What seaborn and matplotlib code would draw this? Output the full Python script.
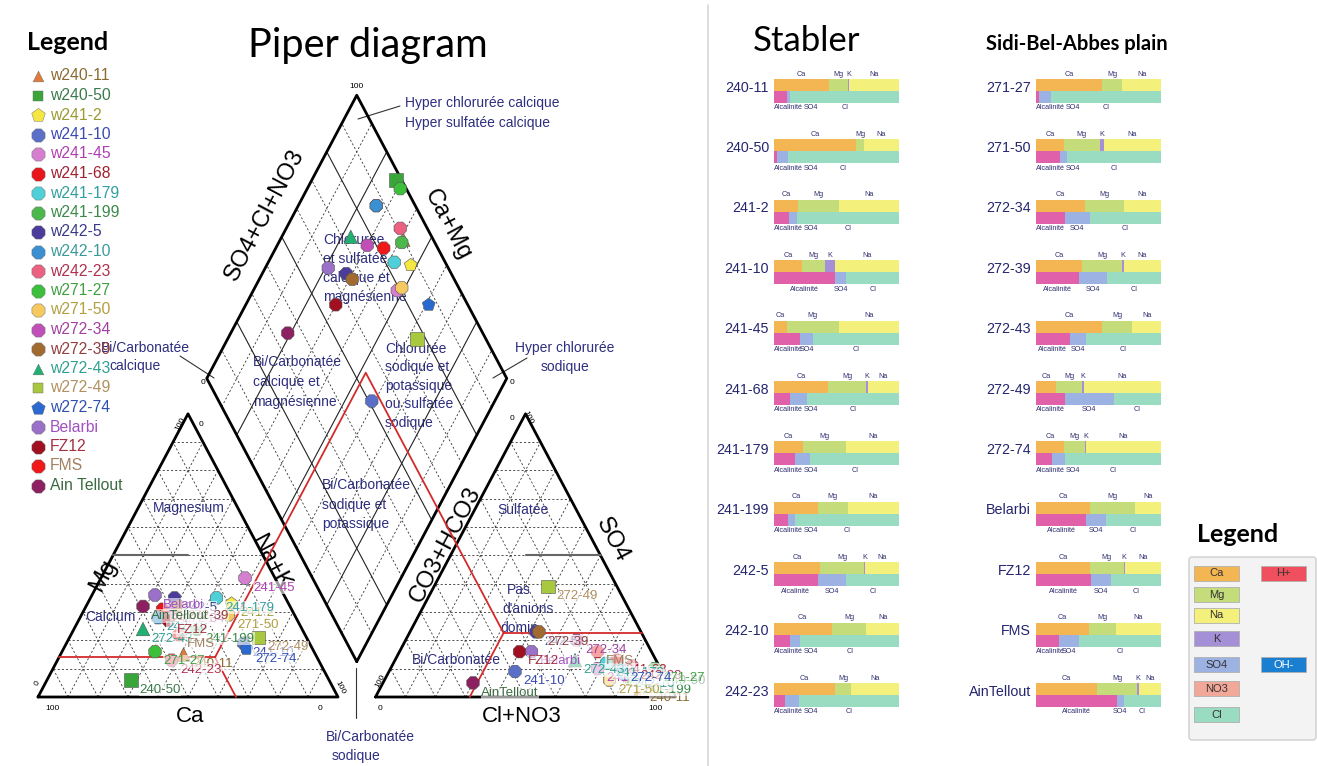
import numpy as np
import pandas as pd
import matplotlib
matplotlib.use("Agg")
import matplotlib.pyplot as plt
import seaborn as sns
from matplotlib.patches import FancyBboxPatch, Rectangle

sns.set_theme(style="white")
plt.rcParams["font.family"] = ["Liberation Sans", "DejaVu Sans"]

# ---------------- data ----------------
samples = ["240-11", "240-50", "241-2", "241-10", "241-45", "241-68", "241-179",
           "241-199", "242-5", "242-10", "242-23", "271-27", "271-50", "272-34",
           "272-39", "272-43", "272-49", "272-74", "Belarbi", "FZ12", "FMS", "AinTellout"]
legend_names = ["w240-11", "w240-50", "w241-2", "w241-10", "w241-45", "w241-68", "w241-179",
                "w241-199", "w242-5", "w242-10", "w242-23", "w271-27", "w271-50", "w272-34",
                "w272-39", "w272-43", "w272-49", "w272-74", "Belarbi", "FZ12", "FMS", "Ain Tellout"]
ca = [44, 66, 19, 22, 10, 43, 23, 35, 37, 46, 49, 53, 22, 39, 37, 53, 16, 22, 43, 43, 42, 49]
mg = [15, 6, 33, 19, 42, 31, 35, 24, 35, 28, 13, 16, 29, 31, 32, 24, 21, 17, 36, 27, 22, 32]
k = [1, 0, 0, 8, 0, 1, 0, 0, 1, 0, 0, 0, 3, 0, 1, 0, 1, 1, 0, 1, 0, 1]
na = [40, 28, 48, 51, 48, 25, 42, 41, 27, 26, 38, 31, 46, 30, 30, 23, 62, 60, 21, 29, 36, 18]
alk = [10, 2, 12, 49, 21, 13, 17, 11, 35, 13, 9, 2, 19, 23, 34, 27, 23, 13, 40, 44, 18, 65]
so4 = [3, 9, 6, 9, 10, 13, 12, 6, 23, 8, 11, 10, 6, 20, 23, 13, 39, 10, 16, 16, 16, 5]
cl = [87, 89, 82, 42, 69, 74, 71, 83, 42, 79, 80, 88, 75, 57, 43, 60, 38, 77, 44, 40, 66, 30]

# red projection guide (Ca, Mg, Na+K) and (HCO3, SO4, Cl)
red_cat = [34, 14, 52]
red_an = [46, 22.6, 31.4]

point_colors = ["#e07b39", "#3aa63a", "#f5e642", "#5a6fc8", "#d67fd0", "#e8161c", "#4fd0d8",
                "#4cb84c", "#4b3c9c", "#3a90d0", "#ec6080", "#3cc03c", "#f5c860", "#c050b8",
                "#a06a30", "#20b070", "#a8c840", "#2a6ad0", "#9a70c8", "#a01020", "#f01818", "#8c2060"]
text_colors = ["#8a6a30", "#3a7a4a", "#9a9a30", "#3a4ab0", "#b040b0", "#a02030", "#30a0a0",
               "#3a8a4a", "#3a3a8a", "#3a9a9a", "#b03050", "#40a040", "#b0a040", "#a040a0",
               "#904040", "#30a090", "#b09060", "#3050b0", "#a050c0", "#a03040", "#a08060", "#3a6a40"]
markers = ["^", "s", "p", "8", "8", "8", "8", "8", "8", "8", "8", "8", "8", "8",
           "8", "^", "s", "p", "8", "8", "8", "8"]

cat_names = ["Ca", "Mg", "K", "Na"]
an_names = ["Alcalinité", "SO4", "Cl"]
stab_colors = {"Ca": "#f4b553", "Mg": "#c4dc7a", "Na": "#f4f07c", "K": "#a58fd6",
               "Alcalinité": "#e061aa", "SO4": "#9bb2e2", "Cl": "#9adcc2"}
leg_left = ["Ca", "Mg", "Na", "K", "SO4", "NO3", "Cl"]
leg_left_colors = ["#f4b553", "#c4dc7a", "#f4f07c", "#a58fd6", "#9bb2e2", "#f2a898", "#9adcc2"]
leg_right = ["H+", "OH-"]
leg_right_colors = ["#f0505e", "#1a7fd0"]

# ---------------- figure ----------------
W, HP = 1317, 766
fig = plt.figure(figsize=(W / 100, HP / 100), dpi=100)
fig.patch.set_facecolor("white")

axt = fig.add_axes([0, 0, 1, 1])
axt.set_xlim(0, W)
axt.set_ylim(HP, 0)
axt.axis("off")

OX, OY, SX, SY = 38, 697, 3.0, 3.27
axp = fig.add_axes([0, 0, 1, 1], zorder=2)
axp.axis("off")
axp.patch.set_alpha(0)

h = np.sin(np.pi / 3)
G = 12.5
AX0 = 100 + G
B = np.array([100 + G / 2, G * h])
Rv = B + np.array([50, 100 * h])
Lv = B + np.array([-50, 100 * h])
Tv = B + np.array([0, 200 * h])


def cat_xy(c_, m_, n_):
    return n_ + m_ / 2, m_ * h


def an_xy(a_, s_, c_):
    return AX0 + c_ + s_ / 2, s_ * h


def dia_pt(nak, acl):
    return B + acl / 100 * (Rv - B) + (100 - nak) / 100 * (Lv - B)


dash = dict(color="#333333", lw=0.6, ls=(0, (2.5, 2.5)))
# triangle grids
for x0 in (0, AX0):
    for q in range(10, 100, 10):
        axp.plot([x0 + q / 2, x0 + 100 - q / 2], [q * h, q * h], **dash)
        axp.plot([x0 + q, x0 + q + (100 - q) / 2], [0, (100 - q) * h], **dash)
        axp.plot([x0 + 100 - q, x0 + (100 - q) / 2], [0, (100 - q) * h], **dash)
    axp.plot([x0, x0 + 100, x0 + 50, x0], [0, 0, 100 * h, 0], color="black", lw=2)


def dline(a1, c1, a2, c2, **kw):
    p1 = B + a1 / 100 * (Rv - B) + c1 / 100 * (Lv - B)
    p2 = B + a2 / 100 * (Rv - B) + c2 / 100 * (Lv - B)
    axp.plot([p1[0], p2[0]], [p1[1], p2[1]], **kw)


for q in range(10, 100, 10):
    if q in (20, 50, 80):
        dline(q, 0, q, 100, color="#222222", lw=0.8)
        dline(0, q, 100, q, color="#222222", lw=0.8)
    else:
        dline(q, 0, q, 100, **dash)
        dline(0, q, 100, q, **dash)
axp.plot([B[0], Rv[0], Tv[0], Lv[0], B[0]], [B[1], Rv[1], Tv[1], Lv[1], B[1]], color="black", lw=2)

# classification lines (grey)
axp.plot([25, 50], [50 * h, 50 * h], color="#666666", lw=1.5)
axp.plot([AX0 + 50, AX0 + 75], [50 * h, 50 * h], color="#666666", lw=1.5)

# red projection lines of the guide sample
red = dict(color="#d42a2a", lw=1.3, zorder=3)
rc_ca, rc_mg, rc_nak = red_cat
ra_h, ra_s, ra_c = red_an
pc_ = cat_xy(rc_ca, rc_mg, rc_nak)
pa_ = an_xy(ra_h, ra_s, ra_c)
pd_ = dia_pt(rc_nak, ra_s + ra_c)
axp.plot([pc_[0], pd_[0], pa_[0]], [pc_[1], pd_[1], pa_[1]], **red)
axp.plot([rc_mg / 2, pc_[0]], [rc_mg * h, pc_[1]], **red)
axp.plot([pc_[0], rc_nak + rc_mg], [pc_[1], 0], **red)
axp.plot([pa_[0], AX0 + 100 - ra_s / 2], [pa_[1], pa_[1]], **red)
axp.plot([pa_[0], AX0 + ra_c], [pa_[1], 0], **red)

# points
df = pd.DataFrame({"sample": samples, "ca": ca, "mg": mg, "k": k, "na": na,
                   "alk": alk, "so4": so4, "cl": cl})
df["nak"] = df["na"] + df["k"]
df["cx"], df["cy"] = cat_xy(df["ca"], df["mg"], df["nak"])
df["ax"], df["ay"] = an_xy(df["alk"], df["so4"], df["cl"])
dxy = [dia_pt(a, b) for a, b in zip(df["nak"], df["so4"] + df["cl"])]
df["dx"] = [p[0] for p in dxy]
df["dy"] = [p[1] for p in dxy]
pal = dict(zip(samples, point_colors))
mk = dict(zip(samples, markers))
for xc, yc in (("cx", "cy"), ("ax", "ay"), ("dx", "dy")):
    sns.scatterplot(data=df, x=xc, y=yc, hue="sample", style="sample", palette=pal,
                    markers=mk, s=95, ax=axp, legend=False, edgecolor="#555555",
                    linewidth=0.4, zorder=4)
axp.set_xlabel("")
axp.set_ylabel("")
for i, s in enumerate(samples):
    for xc, yc in (("cx", "cy"), ("ax", "ay")):
        axp.annotate(s, (df[xc][i], df[yc][i]), xytext=(6, -7), textcoords="offset points",
                     fontsize=9.5, color=text_colors[i], va="center", ha="left", zorder=5,
                     bbox=dict(boxstyle="square,pad=0.05", fc="white", ec="none", alpha=0.6))
axp.set_xlim(-OX / SX, (W - OX) / SX)
axp.set_ylim((OY - HP) / SY, OY / SY)

# ---------------- piper texts (pixel coords) ----------------
navy = "#2e2e80"
fs_r = 10


def T(x, y, s, **kw):
    d = dict(fontsize=fs_r, color=navy, ha="left", va="center")
    d.update(kw)
    axt.text(x, y, s, **d)


T(405, 103, "Hyper chlorurée calcique")
T(405, 123, "Hyper sulfatée calcique")
axt.plot([358, 400], [119, 106], color="#333", lw=0.8)
T(565, 348, "Hyper chlorurée", ha="center")
T(565, 367, "sodique", ha="center")
axt.plot([493, 527], [378, 358], color="#333", lw=0.8)
T(145, 348, "Bi/Carbonatée", ha="center")
T(135, 366, "calcique", ha="center")
axt.plot([180, 214], [356, 378], color="#333", lw=0.8)
T(370, 737, "Bi/Carbonatée", ha="center")
T(356, 756, "sodique", ha="center")
axt.plot([356, 356], [668, 718], color="#333", lw=0.8)
for j, s in enumerate(["Chlorurée", "et sulfatée", "calcique et", "magnésienne"]):
    T(323, 240 + j * 19, s)
for j, s in enumerate(["Bi/Carbonatée", "calcique et", "magnésienne"]):
    T(253, 362 + j * 20, s)
for j, s in enumerate(["Chlorurée", "sodique et", "potassique", "ou sulfatée", "sodique"]):
    T(385, 349 + j * 18.5, s)
for j, s in enumerate(["Bi/Carbonatée", "sodique et", "potassique"]):
    T(322, 485 + j * 19.5, s)
T(153, 508, "Magnesium")
T(85, 617, "Calcium")
T(497, 510, "Sulfatée")
T(507, 590, "Pas")
T(502, 609, "d'anions")
T(500, 628, "domin")
T(412, 660, "Bi/Carbonatée")

# axis names
axt.text(265, 215, "SO4+Cl+NO3", fontsize=17, rotation=62, ha="center", va="center", color="black")
axt.text(448, 225, "Ca+Mg", fontsize=17, rotation=-62, ha="center", va="center", color="black")
axt.text(103, 575, "Mg", fontsize=17, rotation=62, ha="center", va="center", color="black")
axt.text(270, 562, "Na+K", fontsize=17, rotation=-62, ha="center", va="center", color="black")
axt.text(190, 717, "Ca", fontsize=16, ha="center", va="center", color="black")
axt.text(445, 545, "CO3+HCO3", fontsize=17, rotation=62, ha="center", va="center", color="black")
axt.text(612, 540, "SO4", fontsize=17, rotation=-62, ha="center", va="center", color="black")
axt.text(522, 717, "Cl+NO3", fontsize=16, ha="center", va="center", color="black")
# tick numbers
tk = dict(fontsize=6, color="black", ha="center", va="center")
axt.text(356, 86, "100", **tk)
axt.text(203, 382, "0", **tk)
axt.text(512, 383, "0", **tk)
axt.text(52, 708, "100", **tk)
axt.text(320, 708, "0", **tk)
axt.text(37, 683, "0", rotation=62, **tk)
axt.text(340, 688, "100", rotation=-62, **tk)
axt.text(180, 424, "100", rotation=62, **tk)
axt.text(201, 424, "0", **tk)
axt.text(380, 708, "0", **tk)
axt.text(655, 708, "100", **tk)
axt.text(380, 681, "100", rotation=62, **tk)
axt.text(512, 418, "0", **tk)
axt.text(528, 418, "100", rotation=-62, **tk)

# titles
axt.text(368, 45, "Piper diagram", fontsize=28.5, family="Lato", ha="center", va="center", color="black")
axt.text(807, 41, "Stabler", fontsize=25, family="Lato", ha="center", va="center", color="black")
axt.text(1077, 44, "Sidi-Bel-Abbes plain", fontsize=14.5, family="Lato", weight="bold",
         ha="center", va="center", color="black")
axt.text(27, 42, "Legend", fontsize=18, family="Lato", weight="bold", ha="left", va="center", color="black")
axt.text(1197, 535, "Legend", fontsize=18, family="Lato", weight="bold", ha="left", va="center", color="black")
axt.plot([708, 708], [5, 766], color="#d8d8d8", lw=1.2)

# left legend
for i, (nm, pcol, tc, m) in enumerate(zip(legend_names, point_colors, text_colors, markers)):
    y = 76 + i * 19.5
    sz = 60 if m in ("^", "s") else 105
    axt.scatter([38], [y], s=sz, marker=m, color=pcol, edgecolor="#666", linewidth=0.3, zorder=3)
    axt.text(50, y, nm, fontsize=11.3, color=tc, ha="left", va="center")

# ---------------- Stabler bars ----------------
BW, BH = 125, 24
lab = dict(fontsize=5.2, color="#303070")
for j, s in enumerate(samples):
    col, row = divmod(j, 11)
    x0 = 774 if col == 0 else 1036
    y0 = 79 + row * 60.4
    ax = fig.add_axes([x0 / W, 1 - (y0 + BH) / HP, BW / W, BH / HP], zorder=3)
    ax.set_xlim(0, 100)
    ax.set_ylim(2, 0)
    ax.axis("off")
    left = 0
    for nm, v in zip(cat_names, [ca[j], mg[j], k[j], na[j]]):
        if v > 0:
            ax.barh(0.5, v, left=left, height=1, color=stab_colors[nm], lw=0)
            ax.text(left + v / 2, -0.12, nm, ha="center", va="bottom", **lab)
        left += v
    left = 0
    for nm, v in zip(an_names, [alk[j], so4[j], cl[j]]):
        ax.barh(1.5, v, left=left, height=1, color=stab_colors[nm], lw=0)
        left += v
    if alk[j] < 25:
        ax.text(0, 2.12, "Alcalinité", ha="left", va="top", **lab)
        xs = alk[j] + so4[j] / 2
        ax.text(max(xs, 24), 2.12, "SO4", ha="left" if xs < 24 else "center", va="top", **lab)
    else:
        ax.text(alk[j] / 2, 2.12, "Alcalinité", ha="center", va="top", **lab)
        ax.text(alk[j] + so4[j] / 2, 2.12, "SO4", ha="center", va="top", **lab)
    ax.text(alk[j] + so4[j] + cl[j] / 2, 2.12, "Cl", ha="center", va="top", **lab)
    ax.text(-4, 0.72, s, fontsize=10.3, color="#25256e", ha="right", va="center")

# ---------------- right legend ----------------
axt.add_patch(FancyBboxPatch((1189, 557), 127, 183, boxstyle="round,pad=0,rounding_size=3",
                             fc="#f3f3f3", ec="#cfcfcf", lw=1))
sw_y = [566, 587, 608, 631, 657, 681, 707]
for nm, c, ys in zip(leg_left, leg_left_colors, sw_y):
    axt.add_patch(Rectangle((1194, ys), 45, 15, fc=c, ec="#b0b0b0", lw=0.6))
    axt.text(1216.5, ys + 7.5, nm, fontsize=8, color="#333", ha="center", va="center")
for i, (nm, c, ys) in enumerate(zip(leg_right, leg_right_colors, [566, 657])):
    axt.add_patch(Rectangle((1261, ys), 45, 15, fc=c, ec="#b0b0b0", lw=0.6))
    axt.text(1283.5, ys + 7.5, nm, fontsize=8, color="#333" if i == 0 else "white",
             ha="center", va="center")

fig.savefig("out.png", dpi=100)
